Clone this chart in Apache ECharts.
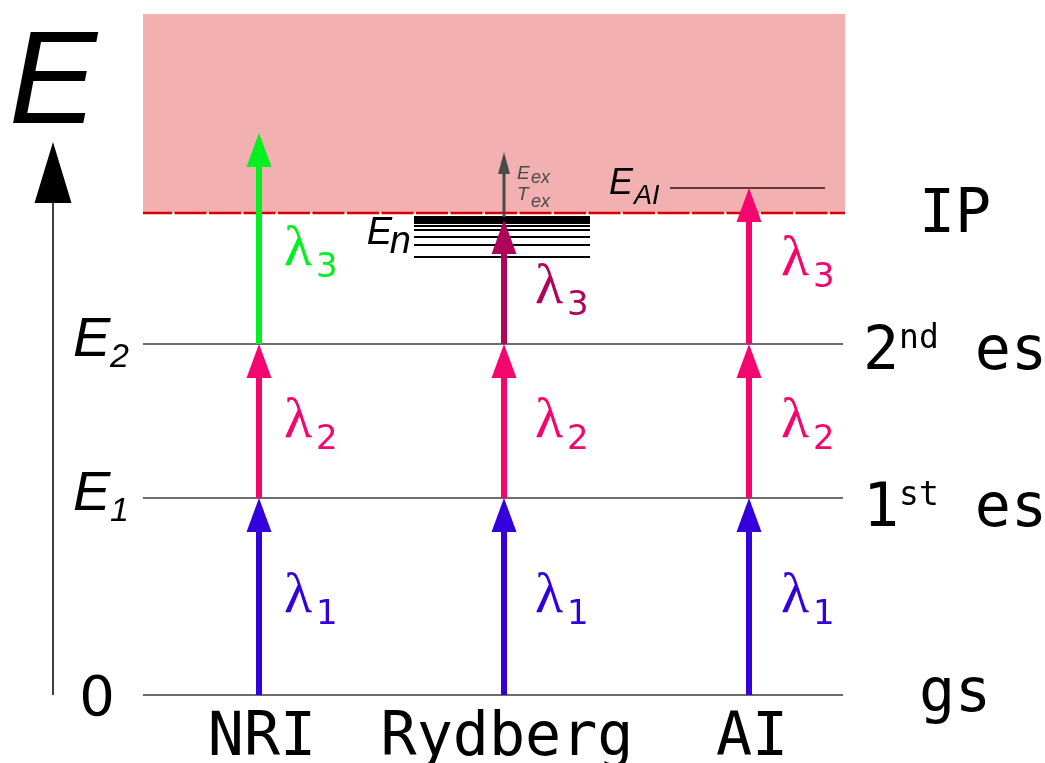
<!DOCTYPE html>
<html><head><meta charset="utf-8">
<script src="https://cdn.jsdelivr.net/npm/echarts@6/dist/echarts.min.js"></script>
<style>html,body{margin:0;padding:0;background:#fff}#c{width:1045px;height:763px}</style>
</head><body><div id="c"></div>
<script>
// ---------------- data ----------------
const columns = ['NRI', 'Rydberg', 'AI'];
const levelNames = ['gs', '1st es', '2nd es', 'IP'];
const levelSymbols = ['0', 'E1', 'E2', ''];
const levelEnergies = [0, 197, 351, 482];
const continuumTop = 681;
const rydbergStates = [478, 476, 474, 472, 469, 465, 458, 450, 438];
const autoionizingState = 507;
const energyAxisTop = 553;
// [column, lambda index, lower energy, upper energy, label anchor energy]
const transitions = [
  ['NRI', 1, 0, 197, 98], ['NRI', 2, 197, 351, 273], ['NRI', 3, 351, 562, 445],
  ['Rydberg', 1, 0, 197, 98], ['Rydberg', 2, 197, 351, 273], ['Rydberg', 3, 351, 475, 407],
  ['AI', 1, 0, 197, 98], ['AI', 2, 197, 351, 273], ['AI', 3, 351, 507, 435]
];
// [column, lower energy, upper energy]
const excessTransitions = [['Rydberg', 478, 543]];

// ---------------- styles ----------------
const X_MIN = 0.5265, X_MAX = 3.3918;
const colX = n => columns.indexOf(n) + 1;
const lambdaColor = (col, lam) => {
  if (lam === 1) return '#3300dd';
  if (lam === 2) return '#f5056e';
  if (col === 'NRI') return '#00f020';
  if (col === 'Rydberg') return '#b0045a';
  return '#f5056e';
};
const labelDx = { NRI: 25, Rydberg: 31, AI: 32 };
const MONO = "'DejaVu Sans Mono'";
const ITAL = "italic {s}px 'Liberation Sans'";
const ital = s => ITAL.replace('{s}', s);

function arrow(x, yStart, yTip, shaftW, headW, headL, color) {
  return [
    { type: 'rect', shape: { x: x - shaftW / 2, y: yTip + headL - 1, width: shaftW, height: yStart - (yTip + headL - 1) }, style: { fill: color } },
    { type: 'polygon', shape: { points: [[x, yTip], [x - headW / 2, yTip + headL], [x + headW / 2, yTip + headL]] }, style: { fill: color } }
  ];
}
function txt(x, y, text, font, fill, align, extra) {
  return { type: 'text', x: x, y: y, style: Object.assign({ text: text, font: font, fill: fill || '#000', align: align || 'left', verticalAlign: 'middle' }, extra || {}) };
}

const series = [];
// continuum
series.push({
  type: 'custom', z: 1, data: [[levelEnergies[3], continuumTop]],
  renderItem: (p, api) => {
    const a = api.coord([X_MIN, levelEnergies[3]]), b = api.coord([X_MAX, continuumTop]);
    return { type: 'rect', shape: { x: a[0], y: b[1], width: b[0] - a[0], height: a[1] - b[1] }, style: { fill: '#f2b0b0' } };
  }
});
// energy levels
series.push({
  type: 'custom', z: 2, data: levelEnergies.map((e, i) => [i, e]),
  renderItem: (p, api) => {
    const i = p.dataIndex, e = levelEnergies[i];
    const a = api.coord([X_MIN, e]), b = api.coord([X_MAX, e]);
    if (i === 3) {
      return { type: 'line', shape: { x1: a[0], y1: a[1], x2: b[0], y2: b[1] }, style: { stroke: '#d40000', lineWidth: 2.5, lineDash: [32, 2.5], lineDashOffset: 3 } };
    }
    return { type: 'line', shape: { x1: a[0], y1: a[1], x2: b[0] - 2, y2: b[1] }, style: { stroke: '#3d3d3d', lineWidth: 1.5 } };
  }
});
// Rydberg states
series.push({
  type: 'custom', z: 3, data: rydbergStates.map(e => [colX('Rydberg'), e]),
  renderItem: (p, api) => {
    const c = api.coord([colX('Rydberg'), rydbergStates[p.dataIndex]]);
    const y = Math.round(c[1]);
    return { type: 'line', shape: { x1: c[0] - 90, y1: y, x2: c[0] + 86, y2: y }, style: { stroke: '#000', lineWidth: 2 } };
  }
});
// autoionizing state
series.push({
  type: 'custom', z: 3, data: [[colX('AI'), autoionizingState]],
  renderItem: (p, api) => {
    const c = api.coord([colX('AI'), autoionizingState]);
    const x0 = c[0] - 79;
    return { type: 'group', children: [
      { type: 'line', shape: { x1: x0, y1: c[1], x2: c[0] + 76, y2: c[1] }, style: { stroke: '#3a0f0f', lineWidth: 1.5 } },
      txt(x0 - 61, c[1] - 4, 'E', ital(36)),
      txt(x0 - 36, c[1] + 8, 'AI', ital(27))
    ] };
  }
});
// laser transitions
series.push({
  type: 'custom', z: 5, data: transitions.map(t => [colX(t[0]), t[2], t[3]]),
  renderItem: (p, api) => {
    const t = transitions[p.dataIndex];
    const x = colX(t[0]);
    const a = api.coord([x, t[2]]), b = api.coord([x, t[3]]), l = api.coord([x, t[4]]);
    const col = lambdaColor(t[0], t[1]);
    const lx = a[0] + labelDx[t[0]];
    return { type: 'group', children: arrow(a[0], a[1], b[1], 6, 25, 34, col).concat([
      txt(lx, l[1], 'λ', "58px 'Liberation Serif'", col),
      txt(lx + 32, l[1] + 18, String(t[1]), "34px 'DejaVu Sans'", col)
    ]) };
  }
});
// excess energy
series.push({
  type: 'custom', z: 6, data: excessTransitions.map(t => [colX(t[0]), t[1], t[2]]),
  renderItem: (p, api) => {
    const t = excessTransitions[p.dataIndex];
    const a = api.coord([colX(t[0]), t[1]]), b = api.coord([colX(t[0]), t[2]]);
    const g = '#4a4a4a';
    return { type: 'group', children: arrow(a[0], a[1], b[1], 3, 12, 22, g).concat([
      txt(a[0] + 13, b[1] + 21.5, 'E', ital(19), g),
      txt(a[0] + 27, b[1] + 26, 'ex', ital(18), g),
      txt(a[0] + 13, b[1] + 43, 'T', ital(19), g),
      txt(a[0] + 27, b[1] + 50, 'ex', ital(18), g)
    ]) };
  }
});
// Rydberg label
series.push({
  type: 'custom', z: 6, data: [[colX('Rydberg'), rydbergStates[rydbergStates.length - 1]]],
  renderItem: (p, api) => {
    const c = api.coord([colX('Rydberg'), rydbergStates[rydbergStates.length - 1]]);
    const left = c[0] - 90;
    return { type: 'group', children: [
      txt(left - 22, c[1] - 23.5, 'E', ital(38), '#000', 'right'),
      txt(left - 3, c[1] - 15, 'n', ital(38), '#000', 'right')
    ] };
  }
});
// level labels (left & right)
series.push({
  type: 'custom', z: 6, data: levelEnergies.map((e, i) => [i, e]),
  renderItem: (p, api) => {
    const i = p.dataIndex, e = levelEnergies[i];
    const a = api.coord([X_MIN, e]), b = api.coord([X_MAX, e]);
    const ch = [];
    const name = levelNames[i];
    const dy = [0, 12, 9, 3][i];
    const m = name.match(/^(\d)(st|nd|rd|th) (.*)$/);
    if (m) {
      ch.push({ type: 'text', x: b[0] + 110, y: b[1] + dy, style: {
        text: '{m|' + m[1] + '}{s|' + m[2] + '}{m| ' + m[3] + '}', align: 'center', verticalAlign: 'middle',
        rich: { m: { font: '60px ' + MONO, fill: '#000' }, s: { font: '33px ' + MONO, fill: '#000', verticalAlign: 'top' } }
      } });
    } else {
      ch.push(txt(b[0] + 110, b[1] + dy, name, '60px ' + MONO, '#000', 'center'));
    }
    const s = levelSymbols[i];
    if (s.length === 1) {
      ch.push(txt(a[0] - 46, a[1] + 5, s, "56px 'DejaVu Sans'", '#000', 'center'));
    } else if (s.length > 1) {
      ch.push(txt(a[0] - 70, a[1] - 4, s[0], ital(56)));
      ch.push(txt(a[0] - 33, a[1] + 14, s.slice(1), ital(34)));
    }
    return { type: 'group', children: ch };
  }
});
// column labels
series.push({
  type: 'custom', z: 6, data: columns.map((c, i) => [i + 1, 0]),
  renderItem: (p, api) => {
    const c = api.coord([p.dataIndex + 1, 0]);
    return txt(c[0] + 3, c[1] + 44, columns[p.dataIndex], '60px ' + MONO, '#000', 'center');
  }
});
// energy axis
series.push({
  type: 'custom', z: 6, data: [[X_MIN, energyAxisTop]],
  renderItem: (p, api) => {
    const a = api.coord([X_MIN, 0]), b = api.coord([X_MIN, energyAxisTop]);
    const x = a[0] - 90;
    return { type: 'group', children: arrow(x, a[1], b[1], 1.5, 37, 61, '#000').concat([
      txt(x, b[1] - 56, 'E', ital(132), '#000', 'center')
    ]) };
  }
});

const chart = echarts.init(document.getElementById('c'));
chart.setOption({
  animation: false,
  grid: { left: 143, right: 200, top: 14, bottom: 68 },
  xAxis: { type: 'value', min: X_MIN, max: X_MAX, show: false },
  yAxis: { type: 'value', min: 0, max: continuumTop, show: false },
  series: series
});
</script></body></html>
